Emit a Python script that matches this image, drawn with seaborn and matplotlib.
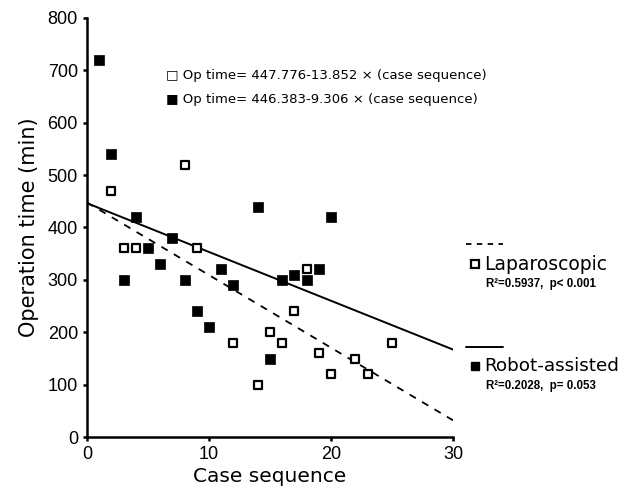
import pandas as pd
import matplotlib.pyplot as plt
import seaborn as sns
from matplotlib.lines import Line2D

# Laparoscopic (open squares)
lap_case = [2, 3, 4, 8, 9, 12, 14, 15, 16, 17, 18, 19, 20, 22, 23, 25]
lap_time = [470, 360, 360, 520, 360, 180, 100, 200, 180, 240, 320, 160, 120, 150, 120, 180]

# Robot-assisted (filled squares)
rob_case = [1, 2, 3, 4, 5, 6, 7, 8, 9, 10, 11, 12, 14, 15, 16, 17, 18, 19, 20]
rob_time = [720, 540, 300, 420, 360, 330, 380, 300, 240, 210, 320, 290, 440, 150, 300, 310, 300, 320, 420]

# Regression coefficients from the chart text
lap_fit = (447.776, -13.852)
rob_fit = (446.383, -9.306)
fit_range = [0, 30]

x_ticks = [0, 10, 20, 30]
y_ticks = [0, 100, 200, 300, 400, 500, 600, 700, 800]

sns.set_theme(style="ticks")
plt.rcParams['font.family'] = ['DejaVu Sans']
plt.rcParams['text.color'] = 'black'
plt.rcParams['axes.labelcolor'] = 'black'

lap = pd.DataFrame({'case': lap_case, 'time': lap_time})
rob = pd.DataFrame({'case': rob_case, 'time': rob_time})

fig = plt.figure(figsize=(6.3, 4.94), dpi=100)
ax = fig.add_axes([0.138, 0.115, 0.581, 0.849])

# Regression lines
ax.plot(fit_range, [lap_fit[0] + lap_fit[1] * x for x in fit_range],
        color='black', linestyle=(0, (4, 4)), linewidth=1.3)
ax.plot(fit_range, [rob_fit[0] + rob_fit[1] * x for x in fit_range],
        color='black', linestyle='-', linewidth=1.4)

# Points
sns.scatterplot(data=lap, x='case', y='time', marker='s', s=38,
                facecolor='white', edgecolor='black', linewidth=1.6, ax=ax, zorder=3)
sns.scatterplot(data=rob, x='case', y='time', marker='s', s=48,
                color='black', edgecolor='black', linewidth=0.5, ax=ax, zorder=3)

ax.set_xlim(0, 30)
ax.set_ylim(0, 800)
ax.set_xticks(x_ticks)
ax.set_yticks(y_ticks)
ax.tick_params(labelsize=13, length=3, width=1.8, colors='black')
for lab in ax.get_xticklabels() + ax.get_yticklabels():
    lab.set_family('Liberation Sans')
for side in ['left', 'bottom']:
    ax.spines[side].set_linewidth(1.8)
    ax.spines[side].set_color('black')
sns.despine(ax=ax)
ax.set_xlabel('Case sequence', fontsize=14.5, labelpad=3)
ax.set_ylabel('Operation time (min)', fontsize=15, labelpad=6)

# Equations
ax.text(0.215, 0.862, '□ Op time= 447.776-13.852 × (case sequence)',
        transform=ax.transAxes, fontsize=9.5, ha='left', va='center')
ax.text(0.215, 0.805, '■ Op time= 446.383-9.306 × (case sequence)',
        transform=ax.transAxes, fontsize=9.5, ha='left', va='center')

# Legend outside on the right
def fy(py):
    return 1 - py / 494

def fx(px):
    return px / 630

fig.add_artist(Line2D([fx(466), fx(503)], [fy(244), fy(244)], color='black',
                      linestyle=(0, (3, 3)), linewidth=1.3))
fig.add_artist(Line2D([fx(475)], [fy(264)], marker='s', markersize=6,
                      markerfacecolor='white', markeredgecolor='black',
                      markeredgewidth=1.6, linestyle='none'))
fig.text(fx(484), fy(264), 'Laparoscopic', fontsize=13.5, va='center', ha='left')
fig.text(fx(486), fy(284), 'R²=0.5937,  p< 0.001', fontsize=8.3, family='Liberation Sans',
         fontweight='bold', va='center', ha='left')

fig.add_artist(Line2D([fx(466), fx(503)], [fy(347), fy(347)], color='black',
                      linestyle='-', linewidth=1.4))
fig.add_artist(Line2D([fx(475)], [fy(366)], marker='s', markersize=6,
                      color='black', linestyle='none'))
fig.text(fx(484), fy(366), 'Robot-assisted', fontsize=13.2, va='center', ha='left')
fig.text(fx(486), fy(386), 'R²=0.2028,  p= 0.053', fontsize=8.3, family='Liberation Sans',
         fontweight='bold', va='center', ha='left')

fig.savefig('out.png', dpi=100)
